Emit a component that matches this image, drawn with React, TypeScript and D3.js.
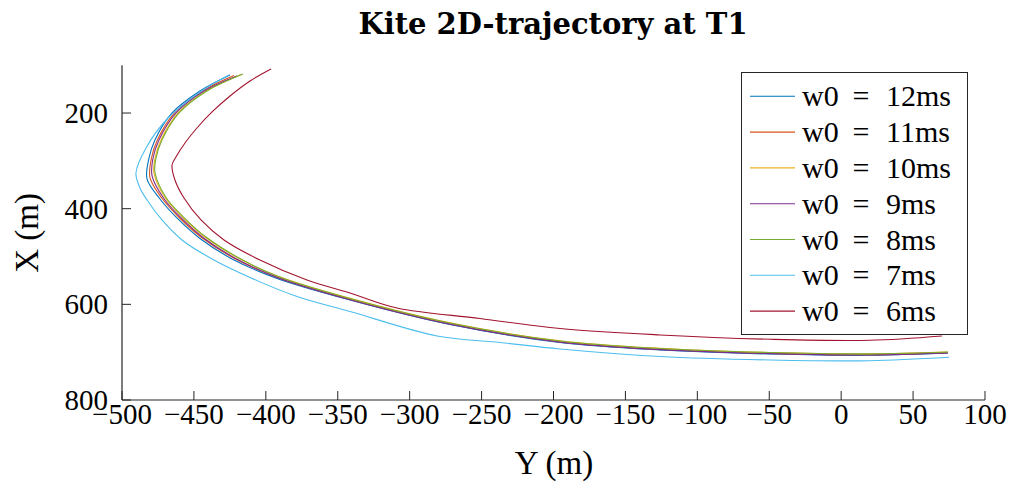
import React from 'react';
import * as d3 from 'd3';

// lateral position Y (m) and downrange X (m) for each initial wind speed
const y12 = [-424.9, -445.8, -465.2, -477.1, -481.2, -482.6, -473.6, -461.1, -445.8, -422.8, -392.2, -341.5, -272.0, -195.5, -126.0, -49.5, 20.0, 74.3];
const x12 = [120.5, 153.9, 199.9, 256.4, 294.0, 337.9, 379.7, 421.5, 462.3, 506.2, 545.9, 590.9, 642.1, 679.7, 695.4, 703.8, 706.5, 701.7];

const y11 = [-422.1, -444.1, -463.5, -475.4, -479.5, -480.5, -472.2, -459.7, -444.4, -421.4, -391.5, -341.5, -272.0, -195.5, -126.0, -49.5, 20.0, 74.3];
const x11 = [121.5, 153.9, 199.9, 256.4, 294.0, 335.8, 378.2, 420.0, 460.8, 504.7, 544.4, 589.4, 640.6, 678.2, 694.0, 702.5, 705.3, 701.0];

const y10 = [-417.3, -441.6, -461.0, -472.9, -477.0, -477.8, -470.1, -457.6, -442.3, -419.3, -390.5, -341.5, -272.0, -195.5, -126.0, -49.5, 20.0, 74.3];
const x10 = [119.4, 153.9, 199.9, 256.4, 294.0, 325.4, 376.7, 418.5, 459.3, 503.2, 542.4, 587.4, 638.6, 676.2, 692.0, 700.8, 703.5, 700.0];

const y9 = [-420.0, -443.0, -462.4, -474.3, -478.4, -479.1, -470.8, -458.3, -443.0, -420.0, -390.8, -341.5, -272.0, -195.5, -126.0, -49.5, 20.0, 74.3];
const x9 = [122.6, 153.9, 199.9, 256.4, 294.0, 331.6, 379.2, 421.0, 461.8, 505.7, 545.2, 590.2, 641.4, 679.0, 694.7, 703.1, 705.8, 701.5];

const y8 = [-415.9, -440.9, -460.3, -472.2, -476.3, -477.1, -469.4, -456.9, -441.6, -418.6, -390.5, -341.5, -272.0, -195.5, -126.0, -49.5, 20.0, 74.3];
const x8 = [118.4, 153.9, 199.9, 256.4, 294.0, 323.3, 376.7, 418.5, 459.3, 503.2, 542.9, 587.9, 639.1, 676.7, 692.4, 700.8, 703.5, 699.5];

const y7 = [-425.6, -445.8, -468.0, -483.3, -490.3, -487.5, -482.6, -472.2, -458.3, -436.7, -411.0, -378.3, -341.5, -281.0, -237.2, -195.5, -126.0, -49.5, 20.0, 75.0];
const x7 = [120.5, 156.0, 210.4, 273.1, 325.4, 356.7, 381.8, 423.6, 465.4, 506.2, 543.8, 583.6, 614.9, 666.1, 679.7, 693.3, 709.0, 716.3, 717.8, 710.7];

const y6 = [-396.4, -411.0, -424.9, -437.4, -447.9, -456.2, -462.5, -465.2, -463.2, -456.9, -445.1, -429.1, -404.1, -371.4, -341.5, -308.8, -251.1, -195.5, -126.0, -49.5, 20.0, 70.1];
const x6 = [107.9, 133.0, 164.4, 197.8, 231.3, 262.6, 291.9, 308.6, 340.0, 377.6, 423.6, 465.4, 507.3, 549.1, 576.2, 607.6, 629.5, 650.5, 664.0, 673.0, 675.1, 666.1];

const speeds = ['12ms', '11ms', '10ms', '9ms', '8ms', '7ms', '6ms'];
const colors = ['#0072BD', '#D95319', '#EDB120', '#7E2F8E', '#77AC30', '#4DBEEE', '#A2142F'];
const xTicks = [-500, -450, -400, -350, -300, -250, -200, -150, -100, -50, 0, 50, 100];
const yTicks = [200, 400, 600, 800];

const lats = [y12, y11, y10, y9, y8, y7, y6];
const downs = [x12, x11, x10, x9, x8, x7, x6];

const font = '"Liberation Serif", "Times New Roman", serif';
const titleFont = '"DejaVu Serif", serif';
const axisColor = '#262626';

const App = () => {
    const width = 1013, height = 485;
    const margin = { top: 65.2, right: 28, bottom: 85, left: 122 };

    const x = d3.scaleLinear().domain([-500, 100]).range([margin.left, width - margin.right]);
    const y = d3.scaleLinear().domain([100, 800]).range([margin.top, height - margin.bottom]);

    const line = d3.line<[number, number]>()
        .x(d => x(d[0]))
        .y(d => y(d[1]))
        .curve(d3.curveCatmullRom.alpha(0.5));

    const y0 = height - margin.bottom;
    const fmt = (v: number) => (v < 0 ? '\u2212' + Math.abs(v) : String(v));

    const paths = lats.map((ys, i) => {
        const pts = ys.map((v, j) => [v, downs[i][j]] as [number, number]);
        return (
            <path key={i} d={line(pts) || ''} fill="none" stroke={colors[i]} strokeWidth={1.1} />
        );
    });

    const legX = 741.5, legY = 72.5, rowH = 35.8;

    return (
        <div style={{ position: 'absolute', left: 0, top: 0 }}>
            <svg width={width} height={height} style={{ display: 'block', background: '#fff' }}>
                <text x={553} y={34} textAnchor="middle" fontFamily={titleFont} fontWeight="bold" fontSize={29}>
                    Kite 2D-trajectory at T1
                </text>

                {paths}

                {/* axes */}
                <line x1={margin.left} x2={width - margin.right} y1={y0} y2={y0} stroke={axisColor} strokeWidth={1.2} />
                <line x1={margin.left} x2={margin.left} y1={margin.top} y2={y0} stroke={axisColor} strokeWidth={1.2} />
                {xTicks.map(t => (
                    <g key={'x' + t}>
                        <line x1={x(t)} x2={x(t)} y1={y0} y2={y0 - 9} stroke={axisColor} strokeWidth={1} />
                        <text x={x(t)} y={424} textAnchor="middle" fontFamily={font} fontSize={29}>{fmt(t)}</text>
                    </g>
                ))}
                {yTicks.map(t => (
                    <g key={'y' + t}>
                        <line x1={margin.left} x2={margin.left + 9} y1={y(t)} y2={y(t)} stroke={axisColor} strokeWidth={1} />
                        <text x={108} y={y(t) + 10} textAnchor="end" fontFamily={font} fontSize={29}>{t}</text>
                    </g>
                ))}
                <text x={554} y={474} textAnchor="middle" fontFamily={font} fontSize={33}>Y (m)</text>
                <text transform="translate(38,233) rotate(-90)" textAnchor="middle" fontFamily={font} fontSize={33}>X (m)</text>

                {/* legend */}
                <rect x={legX} y={legY} width={226} height={262} fill="#fff" stroke={axisColor} strokeWidth={1} />
                {speeds.map((s, i) => {
                    const cy = legY + 23.8 + i * rowH;
                    return (
                        <g key={s}>
                            <line x1={750} x2={795} y1={cy} y2={cy} stroke={colors[i]} strokeWidth={1.1} />
                            <text x={802} y={cy + 10} fontFamily={font} fontSize={30}>w0</text>
                            <text x={861} y={cy + 10} textAnchor="middle" fontFamily={font} fontSize={30}>=</text>
                            <text x={886} y={cy + 10} fontFamily={font} fontSize={30}>{s}</text>
                        </g>
                    );
                })}
            </svg>
        </div>
    );
};

export default App;
